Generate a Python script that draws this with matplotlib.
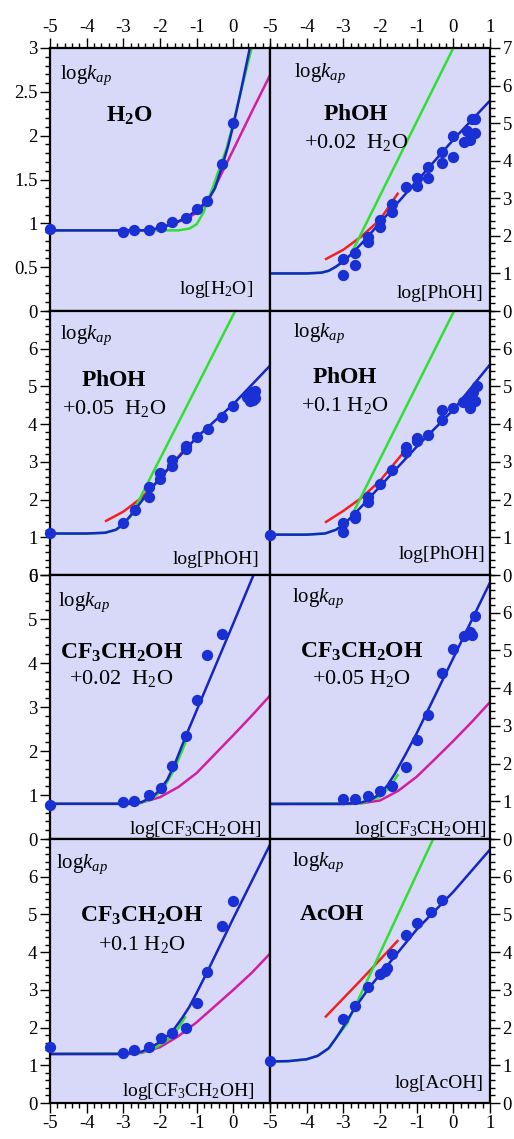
import matplotlib.pyplot as plt
from matplotlib.ticker import MultipleLocator, FormatStrFormatter

plt.rcParams['font.family'] = 'Liberation Serif'
plt.rcParams['mathtext.fontset'] = 'custom'
plt.rcParams['mathtext.rm'] = 'Liberation Serif'
plt.rcParams['mathtext.it'] = 'Liberation Serif:italic'
plt.rcParams['mathtext.bf'] = 'Liberation Serif:bold'
plt.rcParams['axes.unicode_minus'] = False

BG = '#d8d8f8'
BLUE = '#1426c4'
PTS = '#1830d4'
GREEN = '#30e030'
RED = '#ee2222'
MAG = '#d020a0'

# ---- panel 1: H2O
h2o_px = [-5, -3.0, -2.7, -2.3, -1.98, -1.68, -1.29, -1.0, -0.71, -0.3, 0.0]
h2o_py = [0.935, 0.90, 0.92, 0.92, 0.96, 1.02, 1.06, 1.16, 1.25, 1.68, 2.14]
h2o_blue_x = [-5, -2.3, -2.0, -1.68, -1.3, -1.0, -0.7, -0.5, -0.3, -0.15, 0.0, 0.2, 0.45]
h2o_blue_y = [0.92, 0.92, 0.95, 0.99, 1.06, 1.15, 1.26, 1.4, 1.66, 1.87, 2.12, 2.5, 3.0]
h2o_green_x = [-5, -1.5, -1.2, -1.0, -0.82, -0.55, -0.35, -0.18, 0.0, 0.5]
h2o_green_y = [0.92, 0.92, 0.94, 0.99, 1.12, 1.42, 1.66, 1.86, 2.15, 3.0]
h2o_mag_x = [-5, -2.3, -2.0, -1.68, -1.3, -1.0, -0.7, -0.4, -0.2, 0.0, 0.5, 1.0]
h2o_mag_y = [0.92, 0.92, 0.95, 0.99, 1.05, 1.12, 1.25, 1.5, 1.67, 1.84, 2.27, 2.69]

# ---- panel 2: PhOH + 0.02 H2O
ph02_px = [-3.0, -3.0, -2.68, -2.68, -2.32, -2.32, -2.0, -2.0, -1.68, -1.68, -1.3,
           -1.0, -1.0, -0.7, -0.7, -0.32, -0.32, 0.0, 0.0, 0.3, 0.36, 0.45, 0.5, 0.59, 0.59]
ph02_py = [1.38, 0.97, 1.55, 1.22, 1.97, 1.83, 2.42, 2.24, 2.86, 2.64, 3.3,
           3.53, 3.33, 3.84, 3.53, 4.24, 3.93, 4.65, 4.1, 4.5, 4.8, 4.55, 5.1, 5.12, 4.73]
ph02_blue_x = [-5, -4, -3.6, -3.4, -3.2, -3.0, -2.8, -2.5, -2.0, -1.0, 0.0, 1.0]
ph02_blue_y = [1.0, 1.0, 1.02, 1.07, 1.18, 1.32, 1.5, 1.8, 2.35, 3.45, 4.56, 5.6]
ph02_red_x = [-3.5, -3.0, -2.5, -2.0, -1.5]
ph02_red_y = [1.37, 1.63, 1.99, 2.43, 3.15]
ph02_green_x = [-5, -4, -3.6, -3.4, -3.2, -3.0, -2.8, 0.0]
ph02_green_y = [1.0, 1.0, 1.02, 1.07, 1.18, 1.32, 1.5, 7.0]

# ---- panel 3: PhOH + 0.05 H2O
ph05_px = [-5, -3.0, -2.68, -2.3, -2.3, -2.0, -2.0, -1.68, -1.68, -1.3, -1.3,
           -1.0, -0.7, -0.3, 0.0, 0.36, 0.45, 0.5, 0.55, 0.6, 0.6]
ph05_py = [1.12, 1.38, 1.72, 2.34, 2.08, 2.7, 2.55, 3.05, 2.9, 3.43, 3.35,
           3.67, 3.87, 4.2, 4.47, 4.73, 4.62, 4.85, 4.65, 4.88, 4.7]
ph05_blue_x = [-5, -4, -3.5, -3.2, -3.0, -2.8, -2.5, -2.0, -1.0, 0.0, 1.0]
ph05_blue_y = [1.1, 1.1, 1.12, 1.2, 1.35, 1.58, 1.96, 2.58, 3.65, 4.53, 5.55]
ph05_red_x = [-3.5, -3.0, -2.5, -2.0, -1.4]
ph05_red_y = [1.42, 1.68, 2.05, 2.55, 3.25]
ph05_green_x = [-5, -4, -3.5, -3.2, -3.0, -2.8, 0.05]
ph05_green_y = [1.1, 1.1, 1.12, 1.2, 1.35, 1.55, 7.0]

# ---- panel 4: PhOH + 0.1 H2O
ph10_px = [-5, -3.0, -3.0, -2.68, -2.68, -2.32, -2.32, -2.0, -1.68, -1.3, -1.3,
           -1.0, -1.0, -0.7, -0.32, -0.32, 0.0, 0.27, 0.36, 0.45, 0.55, 0.6, 0.64]
ph10_py = [1.06, 1.37, 1.15, 1.6, 1.5, 1.94, 2.06, 2.41, 2.79, 3.4, 3.27,
           3.63, 3.55, 3.71, 4.38, 4.11, 4.42, 4.6, 4.66, 4.44, 4.84, 4.62, 5.02]
ph10_blue_x = [-5, -4, -3.5, -3.2, -3.0, -2.8, -2.5, -2.0, -1.0, 0.0, 1.0]
ph10_blue_y = [1.07, 1.07, 1.1, 1.2, 1.33, 1.52, 1.82, 2.35, 3.4, 4.38, 5.58]
ph10_red_x = [-3.5, -3.0, -2.5, -2.0, -1.4]
ph10_red_y = [1.39, 1.70, 2.05, 2.5, 3.2]
ph10_green_x = [-5, -4, -3.5, -3.2, -3.0, -2.8, 0.02]
ph10_green_y = [1.07, 1.07, 1.1, 1.2, 1.33, 1.52, 7.0]

# ---- panel 5: CF3CH2OH + 0.02 H2O
tf02_px = [-5, -3.0, -2.7, -2.3, -1.98, -1.68, -1.29, -1.0, -0.71, -0.3]
tf02_py = [0.77, 0.85, 0.86, 1.01, 1.15, 1.66, 2.33, 3.16, 4.18, 4.66]
tf02_blue_x = [-5, -2.8, -2.5, -2.2, -2.0, -1.8, -1.6, -1.3, 0.0, 0.6]
tf02_blue_y = [0.8, 0.8, 0.84, 0.96, 1.12, 1.35, 1.7, 2.33, 4.9, 6.1]
tf02_green_x = [-5, -2.6, -2.2, -1.9, -1.6, -1.3]
tf02_green_y = [0.8, 0.8, 0.92, 1.15, 1.6, 2.2]
tf02_mag_x = [-5, -2.8, -2.5, -2.0, -1.5, -1.0, -0.5, 0.0, 0.5, 1.0]
tf02_mag_y = [0.8, 0.8, 0.83, 0.95, 1.18, 1.5, 1.93, 2.36, 2.8, 3.26]

# ---- panel 6: CF3CH2OH + 0.05 H2O
tf05_px = [-3.0, -2.68, -2.32, -2.0, -1.68, -1.29, -1.0, -0.7, -0.32, 0.0, 0.3, 0.45, 0.5, 0.59]
tf05_py = [1.05, 1.05, 1.14, 1.27, 1.41, 1.92, 2.63, 3.29, 4.39, 5.03, 5.37, 5.5, 5.42, 5.9]
tf05_blue_x = [-5, -3, -2.5, -2.2, -2.0, -1.8, -1.6, -1.3, -1.0, 0.0, 1.0]
tf05_blue_y = [0.93, 0.93, 0.97, 1.07, 1.2, 1.42, 1.72, 2.25, 2.8, 4.8, 6.8]
tf05_green_x = [-5, -2.5, -2.0, -1.7, -1.5]
tf05_green_y = [0.93, 0.95, 1.12, 1.42, 1.72]
tf05_mag_x = [-5, -2.8, -2.5, -2.0, -1.5, -1.0, -0.5, 0.0, 0.5, 1.0]
tf05_mag_y = [0.93, 0.93, 0.95, 1.02, 1.28, 1.65, 2.12, 2.6, 3.1, 3.63]

# ---- panel 7: CF3CH2OH + 0.1 H2O
tf10_px = [-5, -3.0, -2.7, -2.3, -1.98, -1.68, -1.29, -1.0, -0.71, -0.3, 0.0]
tf10_py = [1.48, 1.32, 1.41, 1.49, 1.72, 1.85, 1.98, 2.64, 3.47, 4.69, 5.36]
tf10_blue_x = [-5, -3, -2.5, -2.2, -2.0, -1.8, -1.6, -1.4, -1.2, -1.0, -0.7, 0.0, 1.0]
tf10_blue_y = [1.3, 1.3, 1.36, 1.5, 1.62, 1.78, 1.98, 2.25, 2.55, 2.92, 3.5, 4.9, 6.85]
tf10_green_x = [-5, -2.6, -2.2, -1.8, -1.5, -1.3]
tf10_green_y = [1.3, 1.32, 1.42, 1.66, 1.98, 2.3]
tf10_mag_x = [-5, -2.8, -2.5, -2.0, -1.5, -1.0, -0.5, 0.0, 0.5, 1.0]
tf10_mag_y = [1.3, 1.3, 1.33, 1.48, 1.77, 2.14, 2.57, 3.0, 3.45, 3.96]

# ---- panel 8: AcOH
acoh_px = [-5, -3.0, -2.68, -2.32, -2.0, -1.85, -1.8, -1.68, -1.3, -1.0, -0.6, -0.3]
acoh_py = [1.12, 2.22, 2.58, 3.07, 3.42, 3.5, 3.58, 3.94, 4.46, 4.78, 5.07, 5.37]
acoh_blue_x = [-5, -4.5, -4.0, -3.7, -3.4, -3.2, -3.0, -2.7, -2.3, -1.0, 0.0, 1.0]
acoh_blue_y = [1.1, 1.11, 1.16, 1.25, 1.45, 1.72, 2.02, 2.5, 3.05, 4.6, 5.6, 6.72]
acoh_red_x = [-3.5, -2.5, -1.5]
acoh_red_y = [2.27, 3.28, 4.32]
acoh_green_x = [-5, -4.5, -4.0, -3.7, -3.4, -3.2, -2.9, -0.55]
acoh_green_y = [1.1, 1.11, 1.16, 1.25, 1.45, 1.72, 2.1, 7.0]

panels = [
    dict(ymax=3, ystep=0.5, yminor=0.1, yticktop=3,
         title=r'$\mathbf{H_2O}$', tpos=(0.36, 0.72), sub=None,
         xlab=r'log[H$_2$O]', xpos=(0.925, 0.065), kpos=(0.045, 0.882),
         pts=(h2o_px, h2o_py),
         curves=[(h2o_mag_x, h2o_mag_y, MAG), (h2o_green_x, h2o_green_y, GREEN),
                 (h2o_blue_x, h2o_blue_y, BLUE)]),
    dict(ymax=7, ystep=1, yminor=0.2, yticktop=7,
         title=r'$\mathbf{PhOH}$', tpos=(0.39, 0.727), sub=r'+0.02  H$_2$O', spos=(0.39, 0.62),
         xlab=r'log[PhOH]', xpos=(0.97, 0.05), kpos=(0.11, 0.89),
         pts=(ph02_px, ph02_py),
         curves=[(ph02_red_x, ph02_red_y, RED), (ph02_green_x, ph02_green_y, GREEN),
                 (ph02_blue_x, ph02_blue_y, BLUE)]),
    dict(ymax=7, ystep=1, yminor=0.2, yticktop=6,
         title=r'$\mathbf{PhOH}$', tpos=(0.29, 0.716), sub=r'+0.05  H$_2$O', spos=(0.29, 0.609),
         xlab=r'log[PhOH]', xpos=(0.953, 0.04), kpos=(0.044, 0.893),
         pts=(ph05_px, ph05_py),
         curves=[(ph05_red_x, ph05_red_y, RED), (ph05_green_x, ph05_green_y, GREEN),
                 (ph05_blue_x, ph05_blue_y, BLUE)]),
    dict(ymax=7, ystep=1, yminor=0.2, yticktop=6,
         title=r'$\mathbf{PhOH}$', tpos=(0.34, 0.728), sub=r'+0.1 H$_2$O', spos=(0.34, 0.62),
         xlab=r'log[PhOH]', xpos=(0.977, 0.06), kpos=(0.106, 0.9),
         pts=(ph10_px, ph10_py),
         curves=[(ph10_red_x, ph10_red_y, RED), (ph10_green_x, ph10_green_y, GREEN),
                 (ph10_blue_x, ph10_blue_y, BLUE)]),
    dict(ymax=6, ystep=1, yminor=0.2, yticktop=6,
         title=r'$\mathbf{CF_3CH_2OH}$', tpos=(0.324, 0.682), sub=r'+0.02  H$_2$O', spos=(0.324, 0.587),
         xlab=r'log[CF$_3$CH$_2$OH]', xpos=(0.96, 0.02), kpos=(0.036, 0.884),
         pts=(tf02_px, tf02_py),
         curves=[(tf02_mag_x, tf02_mag_y, MAG), (tf02_green_x, tf02_green_y, GREEN),
                 (tf02_blue_x, tf02_blue_y, BLUE)]),
    dict(ymax=7, ystep=1, yminor=0.2, yticktop=6,
         title=r'$\mathbf{CF_3CH_2OH}$', tpos=(0.417, 0.688), sub=r'+0.05 H$_2$O', spos=(0.417, 0.587),
         xlab=r'log[CF$_3$CH$_2$OH]', xpos=(0.985, 0.02), kpos=(0.098, 0.896),
         pts=(tf05_px, tf05_py),
         curves=[(tf05_mag_x, tf05_mag_y, MAG), (tf05_green_x, tf05_green_y, GREEN),
                 (tf05_blue_x, tf05_blue_y, BLUE)]),
    dict(ymax=7, ystep=1, yminor=0.2, yticktop=6,
         title=r'$\mathbf{CF_3CH_2OH}$', tpos=(0.415, 0.688), sub=r'+0.1 H$_2$O', spos=(0.415, 0.58),
         xlab=r'log[CF$_3$CH$_2$OH]', xpos=(0.93, 0.025), kpos=(0.029, 0.89),
         pts=(tf10_px, tf10_py),
         curves=[(tf10_mag_x, tf10_mag_y, MAG), (tf10_green_x, tf10_green_y, GREEN),
                 (tf10_blue_x, tf10_blue_y, BLUE)]),
    dict(ymax=7, ystep=1, yminor=0.2, yticktop=6,
         title=r'$\mathbf{AcOH}$', tpos=(0.28, 0.694), sub=None,
         xlab=r'log[AcOH]', xpos=(0.97, 0.057), kpos=(0.098, 0.897),
         pts=(acoh_px, acoh_py),
         curves=[(acoh_red_x, acoh_red_y, RED), (acoh_green_x, acoh_green_y, GREEN),
                 (acoh_blue_x, acoh_blue_y, BLUE)]),
]

fig = plt.figure(figsize=(5.14, 11.39), dpi=100)
W, H = 514.0, 1139.0
col_left = [50, 270]
row_top = [48, 311, 575, 839, 1103]

for i, p in enumerate(panels):
    r, c = i // 2, i % 2
    x0 = col_left[c]
    y0 = row_top[r + 1]
    h = row_top[r + 1] - row_top[r]
    ax = fig.add_axes([x0 / W, 1 - y0 / H, 220 / W, h / H])
    ax.set_facecolor(BG)
    ax.set_xlim(-5, 1)
    ax.set_ylim(0, p['ymax'])

    for cx, cy, col in p['curves']:
        ax.plot(cx, cy, color=col, lw=1.8, solid_capstyle='butt')
    ax.scatter(p['pts'][0], p['pts'][1], s=66, color=PTS, zorder=5, clip_on=False, linewidths=0)

    # ticks
    if c == 0:
        ax.set_xticks(range(-5, 1))
    else:
        ax.set_xticks(range(-5, 2))
    ax.xaxis.set_minor_locator(MultipleLocator(0.2))
    yt = [k * p['ystep'] for k in range(int(round(p['yticktop'] / p['ystep'])) + 1)]
    ax.set_yticks(yt)
    ax.yaxis.set_minor_locator(MultipleLocator(p['yminor']))
    ax.yaxis.set_major_formatter(FormatStrFormatter('%g'))
    ax.tick_params(which='both', direction='out', labelsize=13.5, width=1.0,
                   top=(r == 0), labeltop=(r == 0),
                   bottom=(r == 3), labelbottom=(r == 3),
                   left=(c == 0), labelleft=(c == 0),
                   right=(c == 1), labelright=(c == 1), pad=2)
    ax.tick_params(which='major', length=7)
    ax.tick_params(which='minor', length=3.5)
    for s in ax.spines.values():
        s.set_linewidth(1.6)

    ax.text(p['kpos'][0], p['kpos'][1], r'log$k_{ap}$', transform=ax.transAxes,
            fontsize=15, ha='left', va='baseline')
    ax.text(p['tpos'][0], p['tpos'][1], p['title'], transform=ax.transAxes,
            fontsize=17, ha='center', va='baseline')
    if p['sub']:
        ax.text(p['spos'][0], p['spos'][1], p['sub'], transform=ax.transAxes,
                fontsize=16, ha='center', va='baseline')
    ax.text(p['xpos'][0], p['xpos'][1], p['xlab'], transform=ax.transAxes,
            fontsize=14, ha='right', va='baseline')

fig.savefig('out.png', dpi=100, facecolor='white')
